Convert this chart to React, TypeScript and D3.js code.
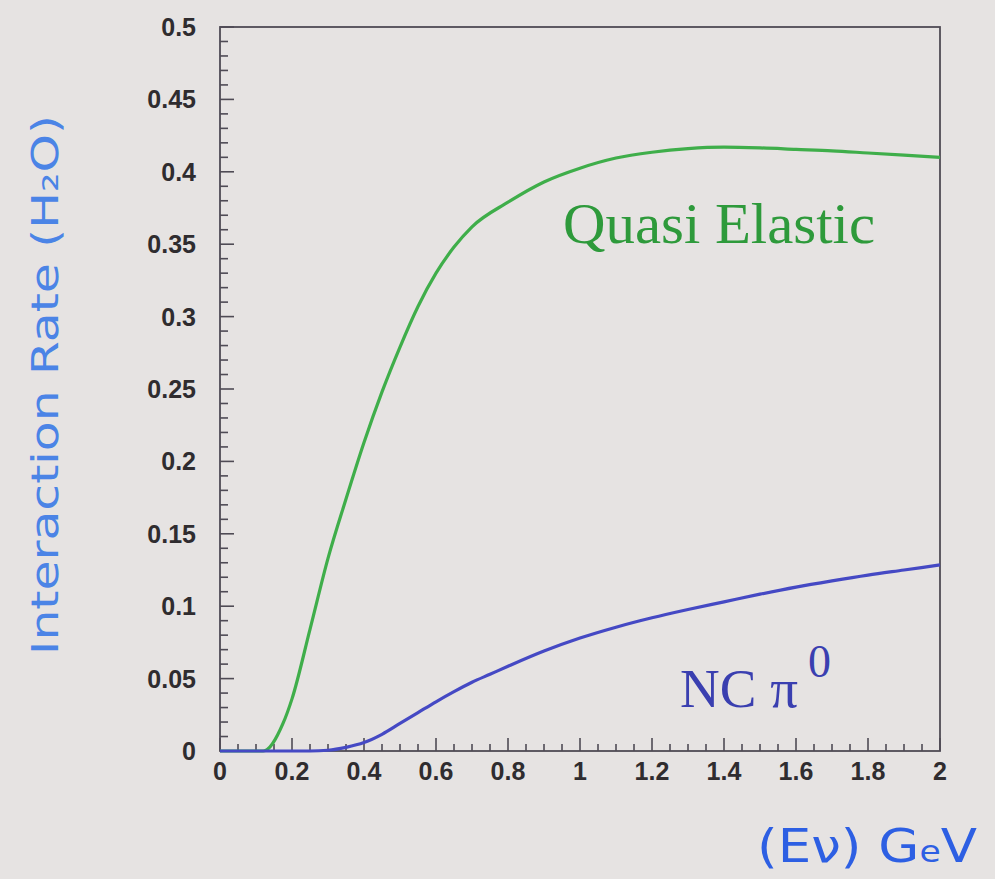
import React, { useEffect, useRef } from "react";
import * as d3 from "d3";

// Quasi elastic interaction rate (green)
const qeEnergy = [0, 0.05, 0.1, 0.12, 0.175, 0.2, 0.25, 0.3, 0.35, 0.4, 0.45, 0.5, 0.55, 0.6, 0.65, 0.7, 0.8, 0.9, 1.0, 1.1, 1.2, 1.3, 1.4, 1.5, 1.6, 1.7, 1.8, 1.9, 2.0];
const qeRate = [0, 0, 0, 0, 0.019, 0.036, 0.084, 0.133, 0.174, 0.213, 0.248, 0.279, 0.307, 0.33, 0.348, 0.362, 0.379, 0.393, 0.4025, 0.4095, 0.4135, 0.416, 0.417, 0.4165, 0.4155, 0.4145, 0.413, 0.4115, 0.41];

// NC pi0 interaction rate (blue)
const ncEnergy = [0, 0.1, 0.2, 0.25, 0.3, 0.35, 0.4, 0.45, 0.5, 0.55, 0.6, 0.65, 0.7, 0.75, 0.8, 0.9, 1.0, 1.1, 1.2, 1.3, 1.4, 1.5, 1.6, 1.7, 1.8, 1.9, 2.0];
const ncRate = [0, 0, 0, 0, 0.0005, 0.0025, 0.0058, 0.0115, 0.019, 0.0265, 0.034, 0.041, 0.0475, 0.053, 0.0585, 0.069, 0.078, 0.0855, 0.092, 0.0977, 0.103, 0.1083, 0.1132, 0.1175, 0.1215, 0.125, 0.1285];

const xTickLabels = ["0", "0.2", "0.4", "0.6", "0.8", "1", "1.2", "1.4", "1.6", "1.8", "2"];
const yTickLabels = ["0", "0.05", "0.1", "0.15", "0.2", "0.25", "0.3", "0.35", "0.4", "0.45", "0.5"];

const W = 995;
const H = 879;

const App: React.FC = () => {
  const svgRef = useRef<SVGSVGElement | null>(null);

  useEffect(() => {
    if (!svgRef.current) return;
    const svg = d3.select(svgRef.current);
    svg.selectAll("*").remove();

    const x = d3.scaleLinear().domain([0, 2]).range([220, 940]);
    const y = d3.scaleLinear().domain([0, 0.5]).range([751, 27]);

    // paper background
    svg.append("rect").attr("width", W).attr("height", H).attr("fill", "#e6e3e2");

    const axisColor = "#4f4b55";

    // minor + major ticks (drawn inside the frame)
    const xMinor = d3.range(0, 41).map((i) => i * 0.05);
    svg
      .append("g")
      .selectAll("line")
      .data(xMinor)
      .join("line")
      .attr("x1", (d) => x(d))
      .attr("x2", (d) => x(d))
      .attr("y1", y(0))
      .attr("y2", (_, i) => y(0) - (i % 4 === 0 ? 13 : 7))
      .attr("stroke", axisColor)
      .attr("stroke-width", 1.6);

    const yMinor = d3.range(0, 51).map((i) => i * 0.01);
    svg
      .append("g")
      .selectAll("line")
      .data(yMinor)
      .join("line")
      .attr("x1", x(0))
      .attr("x2", (_, i) => x(0) + (i % 5 === 0 ? 14 : 8))
      .attr("y1", (d) => y(d))
      .attr("y2", (d) => y(d))
      .attr("stroke", axisColor)
      .attr("stroke-width", 1.6);

    // frame
    svg
      .append("rect")
      .attr("x", x(0))
      .attr("y", y(0.5))
      .attr("width", x(2) - x(0))
      .attr("height", y(0) - y(0.5))
      .attr("fill", "none")
      .attr("stroke", axisColor)
      .attr("stroke-width", 1.8);

    // tick labels
    svg
      .append("g")
      .selectAll("text")
      .data(xTickLabels)
      .join("text")
      .attr("x", (d) => x(+d))
      .attr("y", 780)
      .attr("text-anchor", "middle")
      .attr("font-family", "Liberation Sans, Arial, sans-serif")
      .attr("font-weight", "bold")
      .attr("font-size", 25)
      .attr("fill", "#2f2c2f")
      .text((d) => d);

    svg
      .append("g")
      .selectAll("text")
      .data(yTickLabels)
      .join("text")
      .attr("x", 196)
      .attr("y", (d) => y(+d) + 9)
      .attr("text-anchor", "end")
      .attr("font-family", "Liberation Sans, Arial, sans-serif")
      .attr("font-weight", "bold")
      .attr("font-size", 25)
      .attr("fill", "#2f2c2f")
      .text((d) => d);

    // curves
    const line = d3
      .line<[number, number]>()
      .x((d) => x(d[0]))
      .y((d) => y(d[1]))
      .curve(d3.curveMonotoneX);

    svg
      .append("path")
      .attr("d", line(qeEnergy.map((e, i) => [e, qeRate[i]] as [number, number])))
      .attr("fill", "none")
      .attr("stroke", "#3fae4a")
      .attr("stroke-width", 3.2);

    svg
      .append("path")
      .attr("d", line(ncEnergy.map((e, i) => [e, ncRate[i]] as [number, number])))
      .attr("fill", "none")
      .attr("stroke", "#4549c4")
      .attr("stroke-width", 3.2);

    // curve labels
    svg
      .append("text")
      .attr("x", 563)
      .attr("y", 243)
      .attr("font-family", "Liberation Serif, Times New Roman, serif")
      .attr("font-size", 57)
      .attr("fill", "#2e9a3b")
      .attr("textLength", 312)
      .attr("lengthAdjust", "spacingAndGlyphs")
      .text("Quasi Elastic");

    const nc = svg
      .append("text")
      .attr("x", 680)
      .attr("y", 707)
      .attr("font-family", "Liberation Serif, Times New Roman, serif")
      .attr("font-size", 55)
      .attr("fill", "#3a3fb0");
    nc.append("tspan").text("NC ");
    nc.append("tspan").text("π");
    nc.append("tspan").attr("dy", -30).attr("dx", 10).attr("font-size", 46).text("0");

    // handwritten axis titles
    svg
      .append("text")
      .attr("transform", "translate(58,385) rotate(-90)")
      .attr("text-anchor", "middle")
      .attr("font-family", "DejaVu Sans, sans-serif")
      .attr("font-size", 38)
      .attr("fill", "#4b84e6")
      .attr("textLength", 540)
      .attr("lengthAdjust", "spacingAndGlyphs")
      .text("Interaction Rate (H₂O)");

    const xl = svg
      .append("text")
      .attr("x", 757)
      .attr("y", 862)
      .attr("font-family", "DejaVu Sans, sans-serif")
      .attr("font-size", 46)
      .attr("fill", "#2d5fe3")
      .attr("textLength", 220)
      .attr("lengthAdjust", "spacingAndGlyphs");
    xl.append("tspan").text("(Eν) G");
    xl.append("tspan").attr("font-size", 30).text("e");
    xl.append("tspan").text("V");
  }, []);

  return (
    <div style={{ position: "absolute", left: 0, top: 0, width: W, height: H }}>
      <svg ref={svgRef} width={W} height={H} style={{ display: "block" }} />
    </div>
  );
};

export default App;
